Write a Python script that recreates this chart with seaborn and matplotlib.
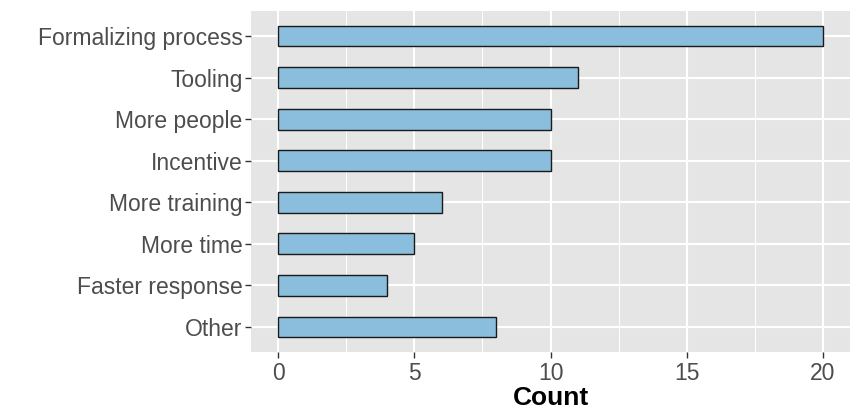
import matplotlib
matplotlib.use("Agg")
import matplotlib.pyplot as plt
from matplotlib.ticker import MultipleLocator
import pandas as pd
import seaborn as sns

# survey answers, top to bottom as in the chart
categories = ["Formalizing process", "Tooling", "More people", "Incentive",
              "More training", "More time", "Faster response", "Other"]
counts = [20, 11, 10, 10, 6, 5, 4, 8]
x_ticks = [0, 5, 10, 15, 20]

df = pd.DataFrame({"category": categories, "count": counts})

sns.set_theme(style="darkgrid")
plt.rcParams["font.family"] = ["Liberation Sans", "DejaVu Sans"]

fig = plt.figure(figsize=(8.61, 4.2), dpi=100)
ax = fig.add_axes([251 / 861, 1 - 352 / 420, 599 / 861, 341 / 420])
ax.set_facecolor("#E5E5E5")

sns.barplot(data=df, x="count", y="category", order=categories, orient="h",
            color="#8BBEDC", saturation=1, width=0.5,
            edgecolor="#1A1A1A", linewidth=1.0, ax=ax)

ax.set_xlim(-1, 21)
ax.set_ylim(len(categories) - 0.4, -0.6)
ax.set_xticks(x_ticks)
ax.xaxis.set_minor_locator(MultipleLocator(2.5))

ax.grid(which="major", color="white", linewidth=1.5)
ax.grid(which="minor", axis="x", color="white", linewidth=0.75)
ax.set_axisbelow(True)
for s in ax.spines.values():
    s.set_visible(False)

ax.tick_params(axis="both", which="major", length=4, width=1.0, color="#333333",
               labelsize=16.5, labelcolor="#4D4D4D", pad=2, bottom=True, left=True)
ax.tick_params(axis="x", which="major", pad=3)
ax.tick_params(axis="x", which="minor", length=0)

ax.set_ylabel("")
ax.set_xlabel("Count", fontsize=19, fontweight="bold", color="black", labelpad=1)

fig.savefig("out.png", dpi=100, facecolor="white")
